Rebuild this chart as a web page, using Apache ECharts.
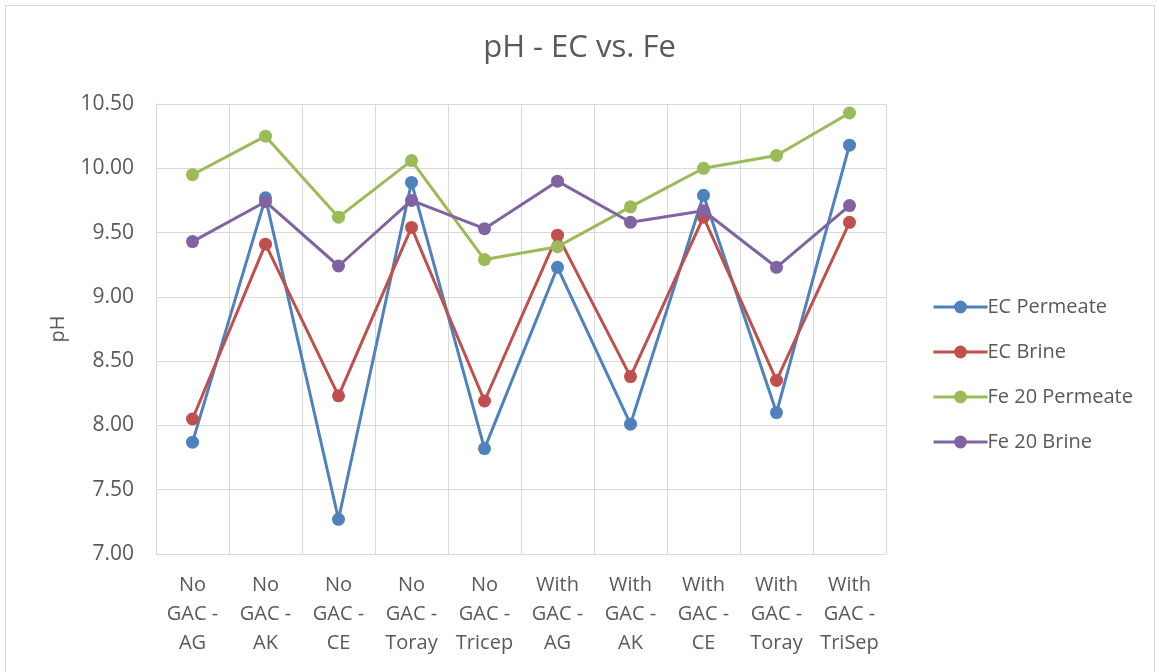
<!DOCTYPE html>
<html>
<head>
<meta charset="utf-8">
<script src="https://cdn.jsdelivr.net/npm/echarts@6/dist/echarts.min.js"></script>
<style>
  html, body { margin: 0; padding: 0; background: #fff; }
  #chart { width: 1159px; height: 672px; }
  #frame { position: absolute; left: 5px; top: 5px; width: 1150px; height: 680px; border: 1px solid #d9d9d9; box-sizing: border-box; pointer-events: none; }
</style>
</head>
<body>
<div id="chart"></div>
<div id="frame"></div>
<script>
// Membrane / pretreatment combinations
const categories = [
  'No\nGAC -\nAG', 'No\nGAC -\nAK', 'No\nGAC -\nCE', 'No\nGAC -\nToray', 'No\nGAC -\nTricep',
  'With\nGAC -\nAG', 'With\nGAC -\nAK', 'With\nGAC -\nCE', 'With\nGAC -\nToray', 'With\nGAC -\nTriSep'
];

// pH readings per sample
const ecPermeate   = [7.87, 9.77, 7.27, 9.89, 7.82, 9.23, 8.01, 9.79, 8.10, 10.18];
const ecBrine      = [8.05, 9.41, 8.23, 9.54, 8.19, 9.48, 8.38, 9.62, 8.35, 9.58];
const fe20Permeate = [9.95, 10.25, 9.62, 10.06, 9.29, 9.39, 9.70, 10.00, 10.10, 10.43];
const fe20Brine    = [9.43, 9.74, 9.24, 9.75, 9.53, 9.90, 9.58, 9.67, 9.23, 9.71];

const seriesNames = ['EC Permeate', 'EC Brine', 'Fe 20 Permeate', 'Fe 20 Brine'];
const seriesData = [ecPermeate, ecBrine, fe20Permeate, fe20Brine];
const colors = ['#4F81BD', '#C0504D', '#9BBB59', '#8064A2'];

const font = 'Open Sans, Noto Sans, sans-serif';
const textColor = '#595959';

const chart = echarts.init(document.getElementById('chart'), null, { renderer: 'canvas' });

chart.setOption({
  color: colors,
  animation: false,
  title: {
    text: 'pH - EC vs. Fe',
    left: 'center',
    top: 28,
    textStyle: { fontFamily: font, fontSize: 31, fontWeight: 'normal', color: textColor }
  },
  legend: {
    orient: 'vertical',
    left: 927,
    top: 292,
    itemGap: 25,
    itemWidth: 54,
    itemHeight: 16,
    lineStyle: { width: 3 },
    textStyle: { fontFamily: font, fontSize: 20, color: textColor, padding: [0, 0, 0, -5] },
    data: seriesNames
  },
  grid: { left: 156, right: 273, top: 104, bottom: 118 },
  xAxis: {
    type: 'category',
    data: categories,
    boundaryGap: true,
    axisLine: { lineStyle: { color: '#d9d9d9', width: 1 } },
    axisTick: { show: false },
    splitLine: { show: true, lineStyle: { color: '#d9d9d9', width: 1 } },
    axisLabel: {
      interval: 0,
      margin: 17,
      fontFamily: font,
      fontSize: 20,
      lineHeight: 29,
      color: textColor
    }
  },
  yAxis: {
    type: 'value',
    min: 7,
    max: 10.5,
    interval: 0.5,
    name: 'pH',
    nameLocation: 'middle',
    nameGap: 88,
    nameRotate: 90,
    nameTextStyle: { fontFamily: font, fontSize: 20, color: textColor },
    axisLine: { show: true, lineStyle: { color: '#d9d9d9' } },
    axisTick: { show: false },
    splitLine: { lineStyle: { color: '#d9d9d9', width: 1 } },
    axisLabel: {
      margin: 22,
      fontFamily: font,
      fontSize: 21,
      color: textColor,
      formatter: v => v.toFixed(2)
    }
  },
  series: seriesNames.map((name, i) => ({
    name,
    type: 'line',
    data: seriesData[i],
    symbol: 'circle',
    symbolSize: 13,
    lineStyle: { width: 3 },
    itemStyle: { color: colors[i] },
    z: 2 + i
  }))
});
</script>
</body>
</html>
